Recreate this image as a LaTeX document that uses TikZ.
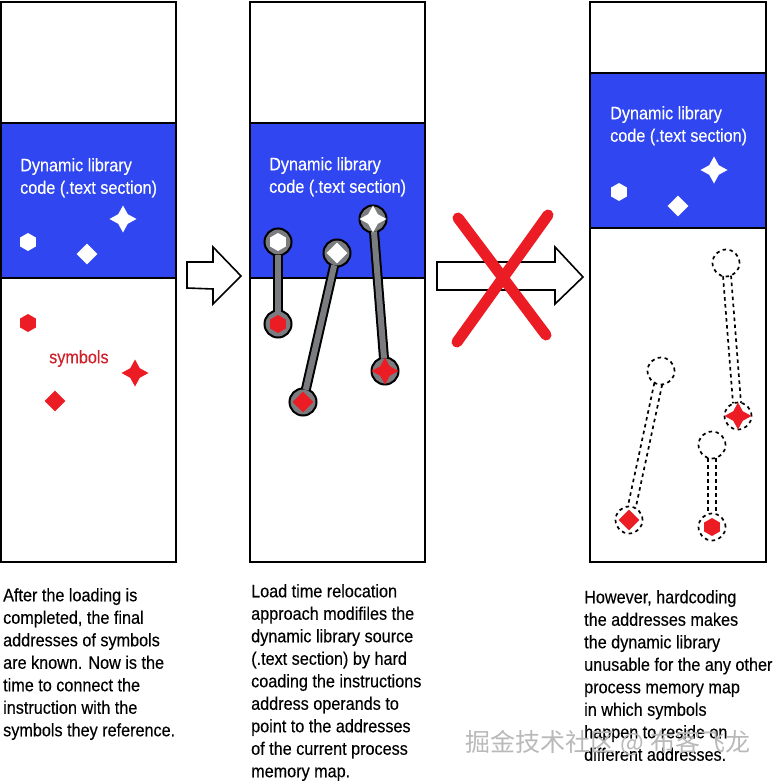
\documentclass[tikz,border=0pt]{standalone}
\usepackage{fontspec}
\setmainfont[FakeStretch=0.9,FakeBold=0.25]{Liberation Sans}
\newfontfamily\cjkfont{Noto Sans CJK SC}
\usetikzlibrary{shapes.geometric,calc}
\definecolor{codeblue}{HTML}{2F46F0}
\definecolor{symred}{HTML}{EC1C24}
\definecolor{wordred}{HTML}{D0202A}
\definecolor{linkgray}{HTML}{7A7C80}
\tikzset{
  panel/.style={draw=black,line width=2pt,fill=white},
  band/.style={draw=black,line width=2pt,fill=codeblue},
  bigarrow/.style={draw=black,line width=1.6pt,fill=white,line join=miter},
  hexsym/.style={regular polygon,regular polygon sides=6,shape border rotate=30,minimum size=18pt,inner sep=0pt},
  diasym/.style={diamond,aspect=1,minimum size=21pt,inner sep=0pt},
  starsym/.style={star,star points=4,star point ratio=2.0,minimum size=27pt,inner sep=0pt},
  ring/.style={circle,draw=black,line width=2pt,fill=linkgray,minimum size=27pt,inner sep=0pt},
  ghost/.style={circle,draw=black,dash pattern=on 3.5pt off 3.5pt,line width=1.7pt,minimum size=27pt,inner sep=0pt},
  link/.style={draw=black,line width=2pt,double=linkgray,double distance=6pt,shorten <=-2pt,shorten >=-2pt},
  ghostlink/.style={draw=black,dash pattern=on 3.5pt off 3.5pt,line width=1.7pt,shorten <=13pt,shorten >=13pt},
  cross/.style={draw=symred,line width=11pt,line cap=round},
  label/.style={anchor=north west,inner sep=0pt,align=left,font=\fontsize{18}{22.5}\selectfont},
  codelabel/.style={label,text=white}
}
\begin{document}
\begin{tikzpicture}[x=1pt,y=-1pt]
\useasboundingbox (0,0) rectangle (773,781);

%panels
\draw[panel] (1,2) rectangle (176,562);
\draw[band] (1,123) rectangle (176,277.5);
\draw[panel] (250,2) rectangle (425,562);
\draw[band] (250,123) rectangle (425,277.5);
\draw[panel] (590,2) rectangle (766,562);
\draw[band] (590,73) rectangle (766,228);

%first panel
\node[codelabel] (codeA) at (20,158) {Dynamic library\\code (.text section)};
\node[hexsym,fill=white] (hexA) at (28,242) {};
\node[diasym,fill=white] (diaA) at (87,254) {};
\node[starsym,fill=white] (starA) at (123,219) {};
\node[hexsym,fill=symred] (rhexA) at (28,323) {};
\node[diasym,fill=symred] (rdiaA) at (55,401) {};
\node[starsym,fill=symred] (rstarA) at (135,373) {};
\node[label,text=wordred] (symbolsA) at (49,350) {symbols};

%second panel
\node[codelabel] (codeB) at (269,157) {Dynamic library\\code (.text section)};
\node[ring] (hexringB) at (278,242) {};
\node[ring] (diaringB) at (337,253) {};
\node[ring] (starringB) at (373,219) {};
\node[ring] (rhexringB) at (278,324) {};
\node[ring] (rdiaringB) at (303,402) {};
\node[ring] (rstarringB) at (385,371) {};
\draw[link] (hexringB) -- (rhexringB);
\draw[link] (diaringB) -- (rdiaringB);
\draw[link] (starringB) -- (rstarringB);
\node[hexsym,fill=white] (hexB) at (278,242) {};
\node[diasym,fill=white] (diaB) at (337,253) {};
\node[starsym,fill=white] (starB) at (373,219) {};
\node[hexsym,fill=symred] (rhexB) at (278,324) {};
\node[diasym,fill=symred] (rdiaB) at (303,402) {};
\node[starsym,fill=symred] (rstarB) at (385,371) {};

%third panel
\node[codelabel] (codeC) at (610,106) {Dynamic library\\code (.text section)};
\node[hexsym,fill=white] (hexC) at (619,192) {};
\node[diasym,fill=white] (diaC) at (678,206) {};
\node[starsym,fill=white] (starC) at (714,170) {};
\node[ghost] (hexghostC) at (712,445) {};
\node[ghost] (diaghostC) at (661,371) {};
\node[ghost] (starghostC) at (726,263) {};
\node[ghost] (rhexghostC) at (712,527) {};
\node[ghost] (rdiaghostC) at (629,520) {};
\node[ghost] (rstarghostC) at (738,416) {};
\foreach \a/\b in {hexghostC/rhexghostC,diaghostC/rdiaghostC,starghostC/rstarghostC}{
  \draw[ghostlink] ($(\a)!4pt!90:(\b)$) -- ($(\b)!4pt!-90:(\a)$);
  \draw[ghostlink] ($(\a)!4pt!-90:(\b)$) -- ($(\b)!4pt!90:(\a)$);
}
\node[hexsym,fill=symred] (rhexC) at (712,527) {};
\node[diasym,fill=symred] (rdiaC) at (629,520) {};
\node[starsym,fill=symred] (rstarC) at (738,416) {};

%arrows
\draw[bigarrow]
(187,262) --
(213,262) --
(213,247) --
(241,276) --
(213,304) --
(213,289) --
(187,288) -- cycle;
\draw[bigarrow]
(437,262) --
(555,262) --
(555,247) --
(583,277) --
(555,304) --
(555,290) --
(437,290) -- cycle;

%cross
\draw[cross] (458,218) -- (546,335);
\draw[cross] (548,215) -- (457,342);

%captions
\node[label] (captionA) at (3,588) {After the loading is\\completed, the final\\addresses of symbols\\are known. Now is the\\time to connect the\\instruction with the\\symbols they reference.};
\node[label] (captionB) at (251,584) {Load time relocation\\approach modifiles the\\dynamic library source\\(.text section) by hard\\coading the instructions\\address operands to\\point to the addresses\\of the current process\\memory map.};
\node[label] (captionC) at (584,590) {However, hardcoding\\the addresses makes\\the dynamic library\\unusable for the any other\\process memory map\\in which symbols\\happen to reside on\\different addresses.};

%watermark
\node[anchor=west,inner sep=0pt,text=gray!55,font=\cjkfont\fontsize{25}{25}\selectfont] (markD) at (465,743) {掘金技术社区 @ 布客飞龙};
\end{tikzpicture}
\end{document}
